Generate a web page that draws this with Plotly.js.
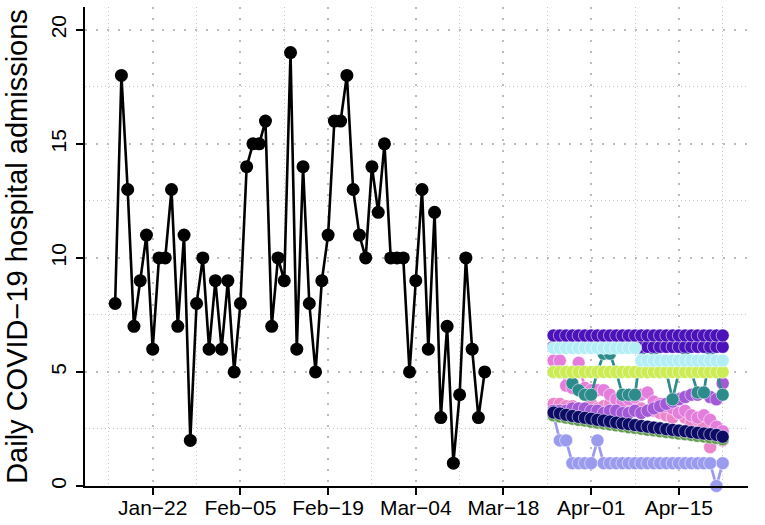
<!DOCTYPE html>
<html>
<head>
<meta charset="utf-8">
<script src="https://cdn.plot.ly/plotly-3.0.1.min.js"></script>
<style>html,body{margin:0;padding:0;background:#fff;}#chart{width:765px;height:525px;}</style>
</head>
<body>
<div id="chart"></div>
<script>
// ---------- data ----------
const observedStart = '2020-01-16';
const observedValues = [8,18,13,7,9,11,6,10,10,13,7,11,2,8,10,6,9,6,9,5,8,14,15,15,16,7,10,9,19,6,14,8,5,9,11,16,16,18,13,11,10,14,12,15,10,10,10,5,9,13,6,12,3,7,1,4,10,6,3,5];

const forecastStart = '2020-03-26';
const fcPeriwinkle = [3.1,2.0,2.0,1.0,1.0,1.0,1.0,2.0,1.0,1.0,1.0,1.0,1.0,1.0,1.0,1.0,1.0,1.0,1.0,1.0,1.0,1.0,1.0,1.0,1.0,1.0,0.0,1.0];
const fcPinkB      = [3.6,3.6,3.5,3.5,3.4,3.3,3.6,3.4,3.5,3.6,3.7,3.5,3.6,3.5,3.4,3.3,3.3,3.2,3.1,3.0,3.2,3.0,2.8,2.9,2.7,1.7,2.2,2.0];
const fcPinkA      = [5.5,5.5,4.4,4.3,5.4,4.3,4.2,4.2,4.2,4.0,3.8,3.7,3.8,3.9,4.0,4.1,3.7,3.6,3.5,3.4,3.2,3.3,3.1,3.0,3.1,2.9,2.6,2.4];
const fcMedPurple  = [3.3,3.3,3.3,3.4,3.4,3.4,3.3,3.3,3.2,3.3,3.3,3.2,3.2,3.3,3.2,3.3,3.4,3.5,3.6,3.7,3.8,3.9,4.0,4.0,4.1,3.9,3.8,4.5];
const fcGreen      = [3.1,3.05,3.0,2.95,2.9,2.87,2.82,2.78,2.74,2.7,2.66,2.62,2.58,2.55,2.51,2.47,2.44,2.4,2.37,2.34,2.3,2.27,2.24,2.2,2.17,2.13,2.1,2.05];
const fcNavy       = [3.22,3.18,3.12,3.07,3.03,2.99,2.95,2.9,2.87,2.83,2.78,2.74,2.71,2.67,2.63,2.6,2.56,2.53,2.49,2.46,2.43,2.4,2.36,2.33,2.3,2.27,2.24,2.16];
const fcCyan       = [6.05,6.05,6.05,6.05,6.05,6.05,6.05,6.05,6.05,6.05,6.05,6.05,6.05,6.05,5.5,5.5,5.5,5.5,5.5,5.5,5.5,5.5,5.5,5.5,5.5,5.5,5.5,5.5];
const fcTeal       = [5.0,5.0,5.0,4.5,4.2,4.0,4.0,5.0,5.8,5.8,5.0,4.0,4.0,4.0,6.0,5.0,6.0,5.0,5.0,3.8,5.0,6.0,5.0,4.1,4.1,6.0,5.0,4.0];
const fcYellow     = [5.0,5.0,5.0,5.0,5.0,5.0,5.0,5.0,5.0,5.0,5.0,5.0,5.0,5.0,5.0,5.0,5.0,5.0,5.0,5.0,5.0,5.0,5.0,5.0,5.0,5.0,5.0,5.0];
const fcPurpleB    = [6.1,6.1,6.1,6.1,6.1,6.1,6.1,6.1,6.1,6.1,6.1,6.1,6.1,6.1,6.1,6.1,6.1,6.1,6.1,6.1,6.1,6.1,6.1,6.1,6.1,6.1,6.1,6.1];
const fcPurpleA    = [6.6,6.6,6.6,6.6,6.6,6.6,6.6,6.6,6.6,6.6,6.6,6.6,6.6,6.6,6.6,6.6,6.6,6.6,6.6,6.6,6.6,6.6,6.6,6.6,6.6,6.6,6.6,6.6];

const xTickStart = '2020-01-22';
const yTitle = 'Daily COVID\u221219 hospital admissions';

// ---------- helpers ----------
function dayRange(start, n) {
  const out = [];
  const d0 = new Date(start + 'T00:00:00Z');
  for (let i = 0; i < n; i++) {
    const d = new Date(d0.getTime() + i * 86400000);
    out.push(d.toISOString().slice(0, 10));
  }
  return out;
}
const DAY = 86400000;
const obsDates = dayRange(observedStart, observedValues.length);
const fcDates = dayRange(forecastStart, fcNavy.length);

function fcTrace(y, color) {
  return {
    x: fcDates, y: y, type: 'scatter', mode: 'lines+markers',
    line: {color: color, width: 2.7},
    marker: {color: color, size: 13, line: {width: 0.7, color: 'rgba(255,255,255,0.75)'}},
    cliponaxis: false, hoverinfo: 'skip', showlegend: false
  };
}

const traces = [
  fcTrace(fcPeriwinkle, '#9A9AEE'),
  fcTrace(fcPinkB, '#EC86CC'),
  fcTrace(fcPinkA, '#E47EDC'),
  fcTrace(fcMedPurple, '#A259D6'),
  fcTrace(fcGreen, '#5E9A4C'),
  fcTrace(fcNavy, '#0C0C66'),
  fcTrace(fcTeal, '#2E8B8C'),
  fcTrace(fcYellow, '#CCEC55'),
  fcTrace(fcPurpleB, '#4A12B8'),
  fcTrace(fcCyan, '#B3EEF6'),
  fcTrace(fcPurpleA, '#4A12B8'),
  {
    x: obsDates, y: observedValues, type: 'scatter', mode: 'lines+markers',
    line: {color: '#000000', width: 2.6},
    marker: {color: '#000000', size: 13},
    cliponaxis: false, showlegend: false
  }
];

const font = 'Liberation Sans, Arial, Helvetica, sans-serif';
const layout = {
  width: 765, height: 525,
  margin: {l: 85, r: 17, t: 7, b: 39},
  paper_bgcolor: '#ffffff', plot_bgcolor: '#ffffff',
  font: {family: font, color: '#000000', size: 21},
  showlegend: false,
  xaxis: {
    type: 'date',
    range: ['2020-01-11 04:30', '2020-04-26 01:00'],
    tick0: xTickStart, dtick: 14 * DAY,
    tickformat: '%b\u2212%d',
    ticks: 'outside', ticklen: 7, tickwidth: 2, tickcolor: '#000',
    ticklabelstandoff: -5,
    showline: true, linewidth: 2, linecolor: '#000',
    showgrid: true, gridcolor: '#bdbdbd', gridwidth: 2, griddash: '2px,9px',
    minor: {tick0: xTickStart, dtick: 7 * DAY, showgrid: true, gridcolor: '#c6c6c6', gridwidth: 1, griddash: '1px,3px', ticks: ''},
    zeroline: false, fixedrange: true,
    tickfont: {family: font, size: 21, color: '#000'}
  },
  yaxis: {
    range: [0, 21],
    tick0: 0, dtick: 5, tickangle: -90,
    ticks: 'outside', ticklen: 7, tickwidth: 2, tickcolor: '#000',
    ticklabelstandoff: 2,
    showline: true, linewidth: 2, linecolor: '#000',
    showgrid: true, gridcolor: '#bdbdbd', gridwidth: 2, griddash: '2px,9px',
    minor: {tick0: 0, dtick: 2.5, showgrid: true, gridcolor: '#c6c6c6', gridwidth: 1, griddash: '1px,3px', ticks: ''},
    zeroline: false, fixedrange: true,
    tickfont: {family: font, size: 21, color: '#000'},
    title: {text: yTitle, font: {family: font, size: 29, color: '#000'}, standoff: 10}
  }
};

Plotly.newPlot('chart', traces, layout, {displayModeBar: false, staticPlot: true});
</script>
</body>
</html>
